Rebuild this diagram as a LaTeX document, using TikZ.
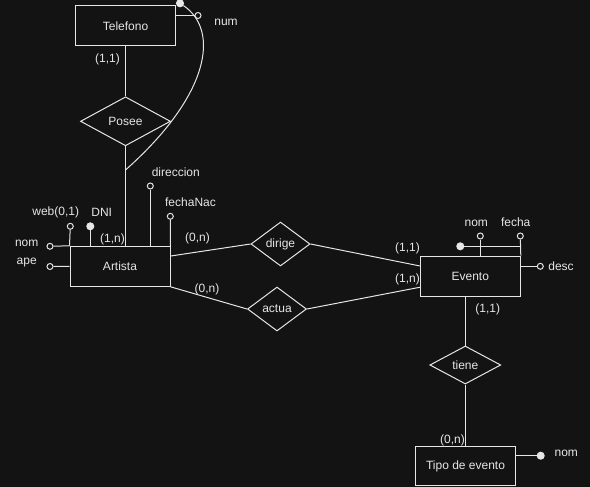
\documentclass[tikz,border=0pt]{standalone}
\usepackage{fontspec}
\setmainfont{Liberation Sans}
\usetikzlibrary{shapes.geometric,calc}
\definecolor{bg}{HTML}{131313}
\definecolor{ink}{HTML}{E6E6E6}

\begin{document}
\begin{tikzpicture}[x=1pt,y=-1pt,line width=1pt,
  every node/.style={font=\fontsize{12}{14}\selectfont,text=ink},
  entity/.style={draw=ink,rectangle,minimum width=100pt,minimum height=40pt,inner sep=0pt},
  rel/.style={draw=ink,diamond,aspect=2,inner sep=0pt},
  attr/.style={circle,draw=ink,fill=bg,inner sep=0pt,minimum size=6pt},
  keyattr/.style={circle,draw=ink,fill=ink,inner sep=0pt,minimum size=7pt},
  lbl/.style={inner sep=0pt},
  link/.style={draw=ink}]

% canvas
\fill[bg] (0,0) rectangle (590,487);
\useasboundingbox (0,0) rectangle (590,487);

% entities
\node[entity] (telefono) at (125.5,26) {Telefono};
\node[entity] (artista)  at (120,266.3) {Artista};
\node[entity] (evento)   at (470.3,276.2) {Evento};
\node[entity,minimum height=39pt] (tipo) at (465.5,466) {Tipo de evento};

% relationships
\node[rel,minimum width=90pt,minimum height=49pt] (posee)  at (125.5,121.3) {Posee};
\node[rel,minimum width=59pt,minimum height=44pt] (dirige) at (280.5,244) {dirige};
\node[rel,minimum width=59pt,minimum height=44pt] (actua)  at (277,309) {actua};
\node[rel,minimum width=71pt,minimum height=38pt] (tiene)  at (465.3,365) {tiene};

% Telefono attributes and composite identifier
\node[attr] (anum) at (198,15.5) {};
\node[lbl,anchor=base] at (226,26) {num};
\draw[link] (anum) -- (anum -| telefono.east);
\node[keyattr] (kphone) at (180,3.3) {};
\coordinate (jn) at (125.5,170);
\draw[link] (kphone) .. controls (220,30) and (210,95) .. (jn);

% Telefono -- Posee -- Artista
\draw[link] (telefono.south) -- (posee.north);
\draw[link] (posee.south) -- (posee.south |- artista.north);
\node[lbl] at (107.5,59.5) {(1,1)};
\node[lbl] at (112.5,239.7) {(1,n)};

% Artista attributes
\node[attr] (anom) at (50,246.3) {};
\node[lbl,anchor=base] at (26.7,246) {nom};
\draw[link] (anom) -- (artista.north west);
\node[attr] (aape) at (50,266.5) {};
\node[lbl,anchor=base] at (26.7,264.5) {ape};
\draw[link] (aape) -- (artista.west);
\node[attr] (aweb) at (70.3,226.3) {};
\node[lbl] at (55.7,212.8) {web(0,1)};
\draw[link] (aweb) -- (artista.north west);
\node[keyattr] (adni) at (90.3,226.3) {};
\node[lbl,anchor=base] at (101.7,216) {DNI};
\draw[link] (adni) -- (adni |- artista.north);
\node[attr] (adir) at (150.3,186) {};
\node[lbl,anchor=base] at (175.8,176) {direccion};
\draw[link] (adir) -- (adir |- artista.north);
\node[attr] (afec) at (170.3,216.3) {};
\node[lbl,anchor=base] at (190.5,206) {fechaNac};
\draw[link] (afec) -- (artista.north east);

% Artista -- dirige / actua -- Evento
\draw[link] ($(artista.north east)!0.25!(artista.south east)$) -- (dirige.west);
\draw[link] (dirige.east) -- ($(evento.north west)!0.25!(evento.south west)$);
\draw[link] (artista.south east) -- (actua.west);
\draw[link] (actua.east) -- ($(evento.north west)!0.77!(evento.south west)$);
\node[lbl] at (197.5,238.3) {(0,n)};
\node[lbl] at (207,289.7) {(0,n)};
\node[lbl] at (407.5,248.7) {(1,1)};
\node[lbl] at (407.5,279) {(1,n)};

% Evento attributes
\node[attr] (enom) at (480.3,236) {};
\node[lbl,anchor=base] at (476.3,226) {nom};
\draw[link] (enom) -- (enom |- evento.north);
\node[attr] (efec) at (520.3,236) {};
\node[lbl,anchor=base] at (515.7,226) {fecha};
\draw[link] (efec) -- (evento.north east);
\node[keyattr] (ekey) at (460.3,246.3) {};
\draw[link] (ekey) -- (ekey -| evento.north east);
\node[attr] (edesc) at (540.3,266.3) {};
\node[lbl,anchor=base] at (561,270.7) {desc};
\draw[link] (edesc) -- (edesc -| evento.east);

% Evento -- tiene -- Tipo de evento
\draw[link] (tiene.north) -- (tiene.north |- evento.south);
\draw[link] (tiene.south) -- (tiene.south |- tipo.north);
\node[lbl] at (487.7,309.5) {(1,1)};
\node[lbl] at (452.5,440) {(0,n)};

% Tipo de evento attribute
\node[keyattr] (tnom) at (540.7,455.7) {};
\node[lbl,anchor=base] at (566.3,456) {nom};
\draw[link] (tnom) -- (tnom -| tipo.east);
\end{tikzpicture}
\end{document}
